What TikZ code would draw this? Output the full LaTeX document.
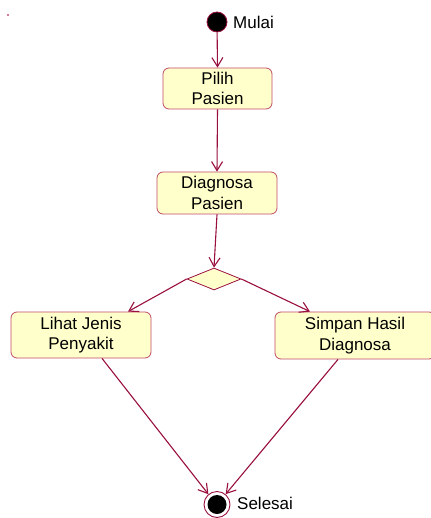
\documentclass[tikz,border=0pt]{standalone}
\usepackage{fontspec}
\setmainfont{Liberation Sans}
\usetikzlibrary{arrows.meta,shapes.geometric}
\definecolor{flow}{HTML}{99103F}
\definecolor{boxline}{HTML}{C04A66}
\definecolor{boxfill}{HTML}{FFFFCC}
\tikzset{
  activity/.style={draw=boxline, fill=boxfill, rounded corners=6pt, line width=0.8pt,
    align=center, inner sep=0pt, font=\fontsize{17}{20.5}\selectfont},
  decision/.style={draw=flow, fill=boxfill, diamond, inner sep=0pt, line width=0.8pt,
    minimum width=54pt, minimum height=22pt},
  flowline/.style={draw=flow, line width=1.1pt, -{Straight Barb[length=9pt,width=11pt,line width=1.1pt]}},
  lbl/.style={anchor=west, inner sep=0pt, font=\fontsize{17}{20}\selectfont}
}
\begin{document}
\begin{tikzpicture}[x=1pt,y=-1pt]
  \useasboundingbox (0,0) rectangle (430,518);
  \fill[white] (0,0) rectangle (430,518);
  % small mark near the top left corner
  \fill[boxline!70] (7,14) rectangle (9,16);

  % start state
  \node[circle, draw=flow, fill=black, line width=0.8pt, minimum size=20pt, inner sep=0pt] (start) at (217,22) {};
  \node[lbl] (startlbl) at (233,22) {Mulai};

  % activities
  \node[activity, minimum width=109pt, minimum height=41pt] (pilih) at (217.5,88.5) {Pilih\\Pasien};
  \node[activity, minimum width=120pt, minimum height=42pt] (diag) at (217,193) {Diagnosa\\Pasien};
  \node[decision] (dec) at (214,279) {};
  \node[activity, minimum width=140pt, minimum height=46pt] (lihat) at (81,335) {Lihat Jenis\\Penyakit};
  \node[activity, minimum width=160pt, minimum height=47pt] (simpan) at (355,335.5) {Simpan Hasil\\Diagnosa};

  % end state
  \node[circle, draw=flow, fill=white, line width=0.9pt, minimum size=26pt, inner sep=0pt] (end) at (217,504.5) {};
  \node[circle, fill=black, minimum size=19pt, inner sep=0pt] (endcore) at (end.center) {};
  \node[lbl] (endlbl) at (237,503) {Selesai};

  % transitions
  \draw[flowline] (start) -- (pilih.north);
  \draw[flowline] (pilih.south) -- (diag.north);
  \draw[flowline] (diag.south) -- (dec.north);
  \draw[flowline] (dec.west) -- ([xshift=47pt]lihat.north);
  \draw[flowline] (dec.east) -- ([xshift=-45pt]simpan.north);
  \draw[flowline] ([xshift=21pt]lihat.south) -- (end.130);
  \draw[flowline] ([xshift=-17pt]simpan.south) -- (end.50);
\end{tikzpicture}
\end{document}
